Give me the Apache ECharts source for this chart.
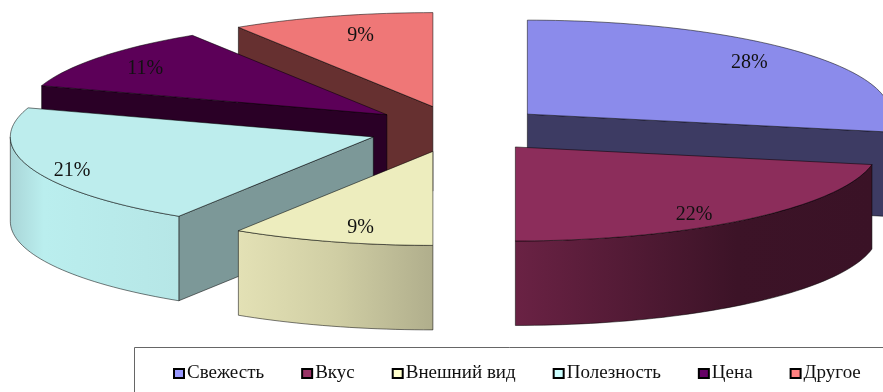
<!DOCTYPE html>
<html>
<head>
<meta charset="utf-8">
<style>html,body{margin:0;padding:0;background:#fff}#c{width:883px;height:392px}</style>
<script src="https://cdn.jsdelivr.net/npm/echarts@6/dist/echarts.min.js"></script>
</head>
<body>
<div id="c"></div>
<script>
var categories = ['Свежесть', 'Вкус', 'Внешний вид', 'Полезность', 'Цена', 'Другое'];
var shares = [28, 22, 9, 21, 11, 9];
var labels = ['28%', '22%', '9%', '21%', '11%', '9%'];

var legendColors = ['#9999ff', '#993366', '#ffffcc', '#ccffff', '#660066', '#ff8080'];
var topColors = ['#8b8beb', '#8c2d5b', '#ededbe', '#bdeded', '#5c0058', '#ef7777'];
var wallColors = ['#3d3b63', '#3a1226', '#b0ae8c', '#7c9898', '#2a0026', '#663030'];
var rimStops = [
  [[0, '#3d3b63'], [1, '#3d3b63']],
  [[0, '#6a2244'], [0.62, '#3c1327'], [1, '#3a1226']],
  [[0, '#e3e1b5'], [0.5, '#d0cea4'], [1, '#b0ae8c']],
  [[0, '#a9d5d7'], [0.2, '#baeeee'], [1, '#b6e6e6']],
  [[0, '#2a0026'], [1, '#2a0026']],
  [[0, '#663030'], [1, '#663030']]
];
var labelNudge = [[0, -4], [-5, 10], [8, 5], [-30, 9], [-14, 0], [8, 1]];

var CX = 458, CY = 129, EXPLODE = 90, RX = 363, RY = 94, DEPTH = 84.5, K = RY / RX, F = 0.794;
var total = shares.reduce(function (a, b) { return a + b; }, 0);
var rad = function (d) { return d * Math.PI / 180; };

function startAngle(i) {
  var s = 0;
  for (var j = 0; j < i; j++) s += shares[j];
  return s / total * 360;
}
function midAngle(i) { return startAngle(i) + shares[i] / total * 180; }

var ranks = categories.map(function (_, i) { return i; }).sort(function (a, b) {
  return -Math.cos(rad(midAngle(a))) + Math.cos(rad(midAngle(b)));
});

function makeRender(i) {
  return function (params, api) {
    var value = api.value(0);
    var a0 = startAngle(i), a1 = a0 + value / total * 360, m = (a0 + a1) / 2;
    var ax = CX + EXPLODE * Math.sin(rad(m));
    var ay = CY - EXPLODE * K * Math.cos(rad(m));
    var P = function (t, d) {
      return [ax + RX * Math.sin(rad(t)), ay - RY * Math.cos(rad(t)) + (d || 0)];
    };
    var arc = function (from, to, d) {
      var pts = [], n = Math.max(2, Math.ceil((to - from) / 1.5));
      for (var q = 0; q <= n; q++) pts.push(P(from + (to - from) * q / n, d));
      return pts;
    };
    var stroke = { stroke: 'rgba(0,0,0,0.65)', lineWidth: 0.8, lineJoin: 'round' };
    var edge = function (fill) { return Object.assign({ fill: fill }, stroke); };
    var wall = function (t) {
      var p = P(t);
      return { type: 'polygon', shape: { points: [[ax, ay], p, [p[0], p[1] + DEPTH], [ax, ay + DEPTH]] }, style: edge(wallColors[i]) };
    };
    var kids = [];
    if (Math.sin(rad(a0)) < -1e-6) kids.push(wall(a0));
    if (Math.sin(rad(a1)) > 1e-6) kids.push(wall(a1));
    var r0 = Math.max(a0, 90), r1 = Math.min(a1, 270);
    if (r1 > r0) {
      kids.push({
        type: 'polygon',
        shape: { points: arc(r0, r1, 0).concat(arc(r0, r1, DEPTH).reverse()) },
        style: edge(new echarts.graphic.LinearGradient(0, 0, 1, 0, rimStops[i].map(function (s) {
          return { offset: s[0], color: s[1] };
        })))
      });
    }
    kids.push({
      type: 'polygon',
      shape: { points: [[ax, ay]].concat(arc(a0, a1, 0)) },
      style: edge(topColors[i])
    });
    kids.push({
      type: 'text',
      z2: 50,
      style: {
        text: labels[i],
        x: ax + F * RX * Math.sin(rad(m)) + labelNudge[i][0],
        y: ay - F * RY * Math.cos(rad(m)) + labelNudge[i][1],
        align: 'center',
        verticalAlign: 'middle',
        fill: '#111',
        font: '20px "Liberation Serif"'
      }
    });
    return { type: 'group', children: kids };
  };
}

var series = categories.map(function (name, i) {
  return {
    type: 'custom',
    name: name,
    coordinateSystem: 'none',
    z: 2 + ranks.indexOf(i),
    silent: true,
    clip: false,
    itemStyle: { color: legendColors[i] },
    data: [[shares[i]]],
    renderItem: makeRender(i)
  };
});

var chart = echarts.init(document.getElementById('c'), null, { renderer: 'canvas' });
chart.setOption({
  animation: false,
  backgroundColor: '#fff',
  legend: {
    data: categories,
    orient: 'horizontal',
    left: 173,
    top: 364,
    width: 720,
    padding: 0,
    itemWidth: 10,
    itemHeight: 9,
    itemGap: 37,
    icon: 'rect',
    selectedMode: false,
    itemStyle: { borderColor: '#000', borderWidth: 2 },
    textStyle: { fontFamily: 'Liberation Serif', fontSize: 19, color: '#111', padding: [1, 0, 0, -2] }
  },
  graphic: [{
    type: 'rect',
    z: 0,
    silent: true,
    shape: { x: 134.5, y: 347.5, width: 800, height: 100 },
    style: { fill: '#fff', stroke: '#666', lineWidth: 1 }
  }],
  series: series
});
</script>
</body>
</html>
